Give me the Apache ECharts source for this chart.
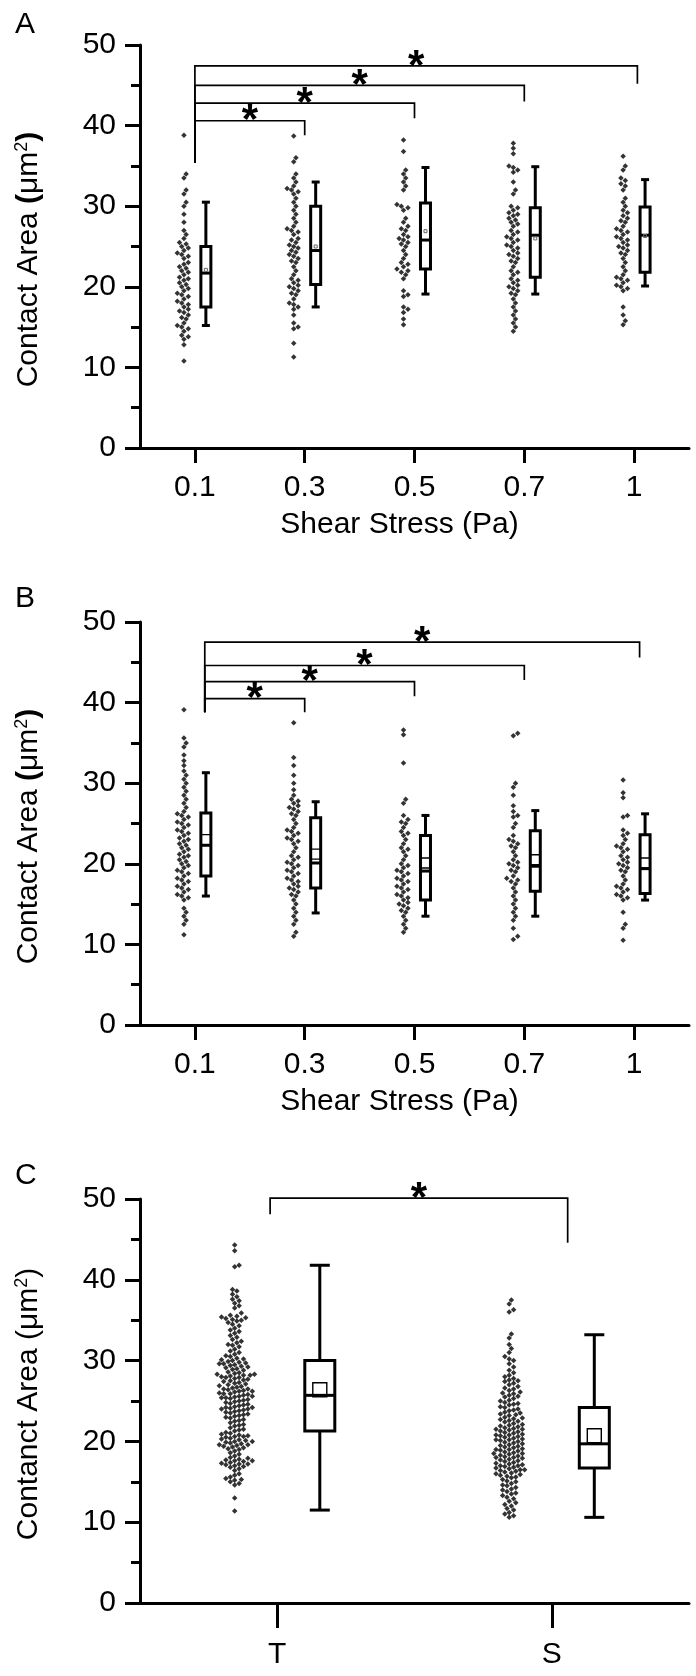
<!DOCTYPE html>
<html><head><meta charset="utf-8">
<script src="https://cdn.jsdelivr.net/npm/echarts@6/dist/echarts.min.js"></script>
<style>html,body{margin:0;padding:0;background:#fff}#c{width:696px;height:1676px}</style>
</head><body><div id="c"></div>
<script>
// ---------- tick labels / categories ----------
const shearLabels = ['0.1', '0.3', '0.5', '0.7', '1'];
const cellLabels = ['T', 'S'];

// ---------- Panel A scatter values (µm²) ----------
const a01 = [38.8,34.0,33.5,32.0,31.5,30.5,30.0,29.0,28.0,27.0,26.5,26.0,25.5,25.3,25.0,24.8,24.5,24.2,24.0,23.8,23.5,23.0,22.8,22.5,22.3,22.0,21.8,21.5,21.2,21.0,20.8,20.5,20.3,20.0,19.8,19.5,19.2,19.0,18.8,18.5,18.2,18.0,17.8,17.5,17.2,17.0,16.8,16.5,16.2,16.0,15.5,15.2,15.0,14.8,14.5,14.0,13.8,13.5,12.8,10.8];
const a03 = [38.7,36.0,35.5,34.0,33.5,33.0,32.5,32.2,32.0,31.8,31.5,31.0,30.5,30.0,29.5,29.0,28.5,28.0,27.5,27.2,27.0,26.8,26.5,26.0,25.8,25.5,25.2,25.0,24.8,24.5,24.3,24.0,23.8,23.5,23.2,23.0,22.5,22.0,21.5,21.0,20.8,20.5,20.2,20.0,19.8,19.5,19.2,19.0,18.5,18.0,17.8,17.5,17.2,16.5,15.5,15.0,14.8,13.0,11.3];
const a05 = [38.2,36.8,34.5,34.0,33.5,33.0,32.5,32.0,30.2,30.0,29.8,29.5,28.5,28.0,27.5,27.2,27.0,26.5,26.2,26.0,25.8,25.5,25.3,25.0,24.5,24.0,23.5,23.0,22.8,22.5,22.2,22.0,21.8,21.5,21.0,19.5,19.0,18.8,17.5,17.2,16.8,16.0,15.3];
const a07 = [37.8,37.2,36.5,35.0,34.8,34.5,34.2,33.0,32.0,31.5,30.0,29.8,29.5,29.2,29.0,28.8,28.5,28.3,28.0,27.8,27.5,27.0,26.8,26.5,26.2,26.0,25.8,25.5,25.2,25.0,24.8,24.5,24.2,24.0,23.8,23.5,23.2,23.0,22.5,22.0,21.8,21.5,21.0,20.8,20.5,20.2,20.0,19.8,19.5,19.2,19.0,18.5,18.0,17.5,17.0,16.5,16.0,15.5,15.0,14.5];
const a10 = [36.2,35.0,34.5,33.5,33.2,32.8,32.5,32.0,31.0,30.5,30.0,29.5,29.2,28.8,28.5,28.2,28.0,27.5,27.2,27.0,26.8,26.5,26.2,26.0,25.8,25.5,25.2,25.0,24.8,24.5,24.2,24.0,23.5,23.0,22.5,22.0,21.5,21.2,21.0,20.8,20.5,20.2,20.0,19.8,19.5,17.5,16.5,15.8,15.3];

// ---------- Panel B scatter values ----------
const b01 = [39.1,35.6,35.0,34.5,33.5,32.8,32.2,31.5,31.0,30.5,30.0,29.5,29.0,28.5,28.0,27.5,27.0,26.5,26.2,26.0,25.8,25.5,25.2,25.0,24.8,24.5,24.2,24.0,23.8,23.5,23.2,23.0,22.8,22.5,22.3,22.0,21.8,21.5,21.2,21.0,20.8,20.5,20.3,20.0,19.8,19.5,19.2,19.0,18.8,18.5,18.2,18.0,17.8,17.5,17.2,17.0,16.8,16.5,16.2,16.0,15.8,15.5,14.5,14.0,13.5,13.0,12.5,11.2];
const b03 = [37.5,33.2,32.2,31.0,30.0,29.2,28.5,28.0,27.8,27.5,27.2,27.0,26.8,26.5,26.2,26.0,25.5,25.0,24.5,24.2,24.0,23.8,23.5,23.2,23.0,22.8,22.5,22.0,21.5,21.0,20.8,20.5,20.2,20.0,19.8,19.5,19.2,19.0,18.8,18.5,18.2,18.0,17.8,17.5,17.2,17.0,16.8,16.5,16.2,16.0,15.5,15.0,14.5,14.0,13.5,13.0,12.5,11.5,11.0];
const b05 = [36.6,36.0,32.5,28.0,27.5,26.0,25.5,25.2,25.0,24.5,24.0,23.8,23.5,23.0,22.5,22.0,21.8,21.5,21.0,20.5,20.0,19.8,19.5,19.2,19.0,18.8,18.5,18.2,18.0,17.8,17.5,17.2,17.0,16.8,16.5,16.2,16.0,15.8,15.5,15.2,15.0,14.8,14.5,14.2,14.0,13.5,13.0,12.5,12.0,11.5];
const b07 = [36.2,35.9,30.0,29.5,28.5,27.2,26.5,26.0,25.8,25.0,24.5,23.5,23.0,22.8,22.5,22.2,22.0,21.5,21.0,20.5,20.2,20.0,19.8,19.5,19.2,19.0,18.5,18.2,18.0,17.8,17.5,17.0,16.5,16.0,15.5,15.0,14.5,14.0,13.5,13.0,12.0,11.0,10.6];
const b10 = [30.4,28.8,28.2,26.0,25.8,24.2,23.8,23.5,23.0,22.5,22.2,22.0,21.8,21.5,21.0,20.8,20.5,20.2,20.0,19.8,19.5,19.2,19.0,18.5,18.0,17.5,17.2,17.0,16.8,16.5,16.2,16.0,15.8,15.5,14.0,12.5,12.0,10.5];

// ---------- Panel C scatter values ----------
const cT = [44.3,43.6,41.8,41.6,
 38.8,38.6,38.2,37.9,37.6,37.4,37.1,36.8,36.5,
 35.9,35.6,35.5,35.4,35.3,35.2,35.1,35.0,34.9,34.7,
 34.5,34.3,34.0,33.8,33.6,33.4,33.1,32.9,32.6,32.4,32.2,32.0,31.9,31.7,
 31.4,31.2,31.0,30.8,30.6,30.5,30.3,30.2,30.0,29.9,29.8,29.7,29.6,29.5,29.4,29.3,29.2,29.1,29.0,28.9,30.1,29.6,
 28.8,28.6,28.5,28.4,28.3,28.2,28.2,28.1,28.0,27.9,27.8,27.7,27.6,27.5,27.4,27.3,27.2,27.1,27.0,26.9,28.3,27.9,
 26.8,26.7,26.6,26.5,26.4,26.3,26.2,26.1,26.0,25.9,25.8,25.7,25.6,25.5,25.4,25.3,25.2,25.1,25.0,24.9,24.8,25.6,25.4,26.2,25.9,26.5,
 24.7,24.6,24.5,24.4,24.3,24.2,24.1,24.0,23.9,23.8,23.7,23.6,23.5,23.4,23.3,23.2,23.1,23.0,24.2,24.0,
 22.9,22.7,22.5,22.3,22.1,21.9,21.7,21.5,21.3,21.1,22.6,22.0,21.4,
 21.0,20.9,20.8,20.7,20.6,20.5,20.4,20.3,20.2,20.1,20.0,19.9,19.8,19.7,19.6,19.5,19.4,19.3,19.2,19.1,19.0,20.6,20.0,19.6,
 18.8,18.6,18.4,18.2,18.0,17.9,17.8,17.7,17.6,17.5,17.4,17.3,17.2,17.1,17.0,16.9,16.8,16.6,17.6,17.2,
 16.4,16.0,15.8,15.6,15.4,15.3,15.2,15.0,14.8,14.6,
 13.0,11.4];
const cS = [37.5,37.0,36.3,36.0,
 33.3,32.8,32.0,31.5,31.0,30.5,30.2,30.0,29.6,29.2,28.8,28.5,
 28.2,28.0,27.8,27.6,27.5,27.4,27.2,27.0,26.8,26.6,26.5,26.3,26.1,26.0,
 25.9,25.7,25.5,25.3,25.1,25.0,24.8,24.6,24.5,24.3,24.2,24.0,23.9,25.6,24.7,
 23.8,23.6,23.5,23.4,23.2,23.0,22.9,22.8,22.6,22.5,22.4,22.2,22.1,22.0,21.9,21.8,23.3,22.7,
 21.7,21.6,21.5,21.4,21.3,21.2,21.1,21.0,20.9,20.8,20.7,20.6,20.5,20.4,20.3,20.2,20.1,20.0,19.9,19.8,19.7,19.6,21.5,20.8,20.2,
 19.5,19.4,19.3,19.2,19.1,19.0,18.9,18.8,18.7,18.6,18.5,18.4,18.3,18.2,18.1,18.0,17.9,17.8,17.7,17.6,19.0,18.5,18.0,
 17.5,17.4,17.3,17.2,17.1,17.0,16.9,16.8,16.7,16.6,16.5,16.4,16.3,16.2,16.1,16.0,15.9,15.8,15.7,15.6,17.0,16.5,
 15.5,15.3,15.1,15.0,14.8,14.6,14.5,14.3,14.1,14.0,13.8,13.6,13.5,13.3,13.1,
 12.9,12.6,12.4,12.2,12.0,11.7,11.5,11.2,11.0,10.8,10.6];

// ---------- box statistics: [whiskerLow, Q1, median, Q3, whiskerHigh, mean] ----------
const boxA = [[15.2,17.5,21.7,25.0,30.5,22.1],[17.5,20.3,24.5,30.0,33.0,25.0],[19.1,22.2,25.8,30.4,34.8,26.9],[19.1,21.2,26.4,29.8,34.9,26.0],[20.1,21.8,26.4,29.9,33.3,26.3]];
const boxB = [[16.0,18.5,22.3,26.3,31.3,23.0],[13.9,17.0,20.1,25.7,27.7,21.2],[13.5,15.5,19.1,23.5,26.0,20.1],[13.5,16.6,19.7,24.1,26.6,20.5],[15.5,16.3,19.4,23.6,26.2,20.1]];
const boxC = [[11.5,21.3,25.7,30.0,41.8,26.4],[10.6,16.7,19.7,24.2,33.2,20.7]];

// ---------- significance brackets: [fromPos, toPos, yTop, yLeftEnd, yRightEnd] ----------
const brA = [[1,2,40.6,35.4,38.8],[1,3,42.8,35.4,40.9],[1,4,45.0,35.4,43.0],[1,5.03,47.4,35.4,45.2]];
const brB = [[1.09,2,40.5,38.8,38.8],[1.09,3,42.6,38.8,40.8],[1.09,4,44.6,38.8,42.8],[1.09,5.05,47.5,38.8,45.6]];
const brC = [[0.974,2.058,50.1,48.1,44.6]];

const FONT = "'Liberation Sans', Arial, sans-serif";
const FS = 30;

// deterministic swarm layout (x offsets derived from values)
function swarm(vals, center, pxX, pxY, d, maxHalf) {
  const s = vals.slice().sort((a, b) => a - b);
  const placed = [], out = [];
  const steps = [0];
  for (let k = 1; k * d / 2 <= maxHalf + 0.01; k++) { steps.push(k * d / 2); steps.push(-k * d / 2); }
  for (const v of s) {
    const yp = v * pxY;
    let best = 0, bestScore = -1;
    for (const xo of steps) {
      let minD = Infinity;
      for (const p of placed) {
        if (Math.abs(p[1] - yp) < d) { const dd = Math.hypot(p[0] - xo, p[1] - yp); if (dd < minD) minD = dd; }
      }
      if (minD >= d) { best = xo; bestScore = Infinity; break; }
      if (minD > bestScore) { bestScore = minD; best = xo; }
    }
    placed.push([best, yp]);
    out.push([center + best / pxX, v]);
  }
  return out;
}

const GL = 140, GW = 549, GH = 403;
const grids = [{left: GL, top: 45, width: GW, height: GH}, {left: GL, top: 622, width: GW, height: GH}, {left: GL, top: 1199, width: GW, height: 404}];

function boxRender(boxW, capW, meanSize, meanLW, meanColor) {
  return function (params, api) {
    const x = api.value(0);
    const pMin = api.coord([x, api.value(1)]), pQ1 = api.coord([x, api.value(2)]), pMed = api.coord([x, api.value(3)]);
    const pQ3 = api.coord([x, api.value(4)]), pMax = api.coord([x, api.value(5)]), pMean = api.coord([x, api.value(6)]);
    const cx = pMin[0];
    const st = {stroke: '#000', lineWidth: 3, fill: null};
    return {type: 'group', children: [
      {type: 'line', shape: {x1: cx, y1: pMax[1], x2: cx, y2: pQ3[1]}, style: st},
      {type: 'line', shape: {x1: cx, y1: pQ1[1], x2: cx, y2: pMin[1]}, style: st},
      {type: 'line', shape: {x1: cx - capW / 2, y1: pMax[1], x2: cx + capW / 2, y2: pMax[1]}, style: st},
      {type: 'line', shape: {x1: cx - capW / 2, y1: pMin[1], x2: cx + capW / 2, y2: pMin[1]}, style: st},
      {type: 'rect', shape: {x: cx - boxW / 2, y: pQ3[1], width: boxW, height: pQ1[1] - pQ3[1]}, style: {stroke: '#000', lineWidth: 3, fill: '#fff'}},
      {type: 'line', shape: {x1: cx - boxW / 2, y1: pMed[1], x2: cx + boxW / 2, y2: pMed[1]}, style: st},
      {type: 'rect', shape: {x: cx - meanSize / 2, y: pMean[1] - meanSize / 2, width: meanSize, height: meanSize}, style: {stroke: meanColor, lineWidth: meanLW, fill: null}}
    ]};
  };
}
function bracketRender(starDy) {
  return function (params, api) {
    const x1 = api.value(0), x2 = api.value(1), yt = api.value(2);
    const pL = api.coord([x1, yt]), pR = api.coord([x2, yt]);
    const pLb = api.coord([x1, api.value(3)]), pRb = api.coord([x2, api.value(4)]);
    return {type: 'group', children: [
      {type: 'polyline', shape: {points: [pLb, pL, pR, pRb]}, style: {stroke: '#000', lineWidth: 1.7, fill: null}},
      {type: 'text', x: (pL[0] + pR[0]) / 2, y: pL[1] + starDy, style: {text: '*', font: 'bold 42px ' + FONT, fill: '#000', align: 'center', verticalAlign: 'middle'}}
    ]};
  };
}

function yAxis(i, rich) {
  return {gridIndex: i, type: 'value', min: 0, max: 50, interval: 10,
    axisLine: {show: true, lineStyle: {color: '#000', width: 3}},
    axisTick: {show: true, length: 15, lineStyle: {color: '#000', width: 3}},
    minorTick: {show: true, splitNumber: 2, length: 9, lineStyle: {color: '#000', width: 3}},
    splitLine: {show: false}, minorSplitLine: {show: false},
    axisLabel: {color: '#000', fontSize: FS, fontFamily: FONT, margin: 24},
    name: rich, nameLocation: 'middle', nameGap: 95,
    nameTextStyle: {color: '#000', fontSize: FS, fontFamily: FONT, padding: i < 2 ? [0, 26, 0, 0] : [0, 6, 0, 0],
      rich: {n: {fontSize: FS, fontFamily: FONT, color: '#000'}, b: {fontSize: FS, fontFamily: FONT, fontWeight: 'bold', color: '#000'},
             sup: {fontSize: 18, fontFamily: FONT, color: '#000', verticalAlign: 'top', padding: [0, 0, 14, 0]}}}};
}
function xAxis(i, n, labels, tickLen, margin, name) {
  const vals = labels.map((_, k) => k + 1);
  const o = {gridIndex: i, type: 'value', min: 0.5, max: n + 0.5,
    axisLine: {show: true, onZero: false, lineStyle: {color: '#000', width: 3}},
    axisTick: {show: true, customValues: vals, length: tickLen, lineStyle: {color: '#000', width: 3}},
    axisLabel: {customValues: vals, formatter: v => labels[Math.round(v) - 1], color: '#000', fontSize: FS, fontFamily: FONT, margin: margin},
    splitLine: {show: false}};
  if (name) { o.name = name; o.nameLocation = 'middle'; o.nameGap = 62; o.nameTextStyle = {color: '#000', fontSize: FS, fontFamily: FONT, padding: [0, 30, 0, 0]}; }
  return o;
}

const pxAB = GW / 5, pxC = GW / 2, pyAB = GH / 50, pyC = 404 / 50;
const groupsA = [a01, a03, a05, a07, a10], groupsB = [b01, b03, b05, b07, b10], groupsC = [cT, cS];
const scat = (groups, off, px, py, d, half) => groups.reduce((acc, g, k) => acc.concat(swarm(g, k + 1 + off, px, py, d, half)), []);

const series = [];
[[groupsA, boxA, brA, 0], [groupsB, boxB, brB, 1]].forEach(([g, bx, br, i]) => {
  series.push({type: 'scatter', xAxisIndex: i, yAxisIndex: i, symbol: 'diamond', symbolSize: 5.5, itemStyle: {color: '#000'}, silent: true,
    data: scat(g, -0.1, pxAB, pyAB, 4.4, 11)});
  series.push({type: 'custom', xAxisIndex: i, yAxisIndex: i, silent: true,
    renderItem: boxRender(10, 8, i === 0 ? 3 : 10, i === 0 ? 1 : 1.4, i === 0 ? '#666' : '#000'),
    data: bx.map((b, k) => [k + 1.1].concat(b))});
  series.push({type: 'custom', xAxisIndex: i, yAxisIndex: i, silent: true, renderItem: bracketRender(1), data: br});
});
series.push({type: 'scatter', xAxisIndex: 2, yAxisIndex: 2, symbol: 'diamond', symbolSize: 5.5, itemStyle: {color: '#000'}, silent: true,
  data: scat(groupsC, -0.155, pxC, pyC, 4.4, 25)});
series.push({type: 'custom', xAxisIndex: 2, yAxisIndex: 2, silent: true, renderItem: boxRender(30, 20, 14, 1.4, '#000'),
  data: boxC.map((b, k) => [k + 1.155].concat(b))});
series.push({type: 'custom', xAxisIndex: 2, yAxisIndex: 2, silent: true, renderItem: bracketRender(1), data: brC});

const nameAB = '{n|Contact Area }{b|(}{n|μm}{sup|2}{b|)}';
const nameC = '{n|Contanct Area (μm}{sup|2}{n|)}';

const chart = echarts.init(document.getElementById('c'), null, {renderer: 'canvas'});
chart.setOption({
  animation: false,
  backgroundColor: '#fff',
  title: [
    {text: 'A', left: 10, top: 5, textStyle: {fontSize: FS, fontWeight: 'normal', fontFamily: FONT, color: '#000'}},
    {text: 'B', left: 10, top: 579, textStyle: {fontSize: FS, fontWeight: 'normal', fontFamily: FONT, color: '#000'}},
    {text: 'C', left: 10, top: 1156, textStyle: {fontSize: FS, fontWeight: 'normal', fontFamily: FONT, color: '#000'}}
  ],
  grid: grids,
  xAxis: [xAxis(0, 5, shearLabels, 15, 25, 'Shear Stress (Pa)'), xAxis(1, 5, shearLabels, 15, 25, 'Shear Stress (Pa)'), xAxis(2, 2, cellLabels, 25, 37, null)],
  yAxis: [yAxis(0, nameAB), yAxis(1, nameAB), yAxis(2, nameC)],
  series: series
});
</script></body></html>
